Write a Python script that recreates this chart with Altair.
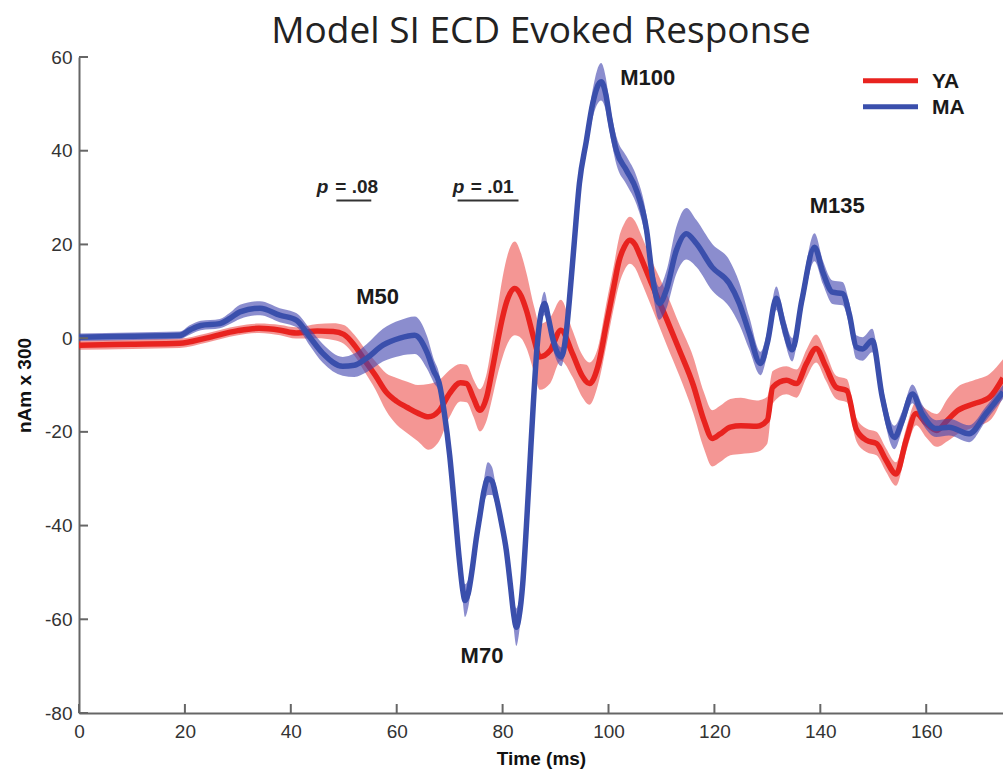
import altair as alt
import pandas as pd

# ---------------- data ----------------
ya_t = [0, 10, 19, 24, 30, 34, 38, 41, 45, 48,
        50, 52, 54, 56, 58, 60, 62, 64, 66, 68,
        70, 72, 73.2, 74.5, 75.7, 77, 78, 79, 80, 81,
        82.3, 83.5, 84.5, 86, 87, 89, 91, 93.2, 95, 96.4,
        98, 99.6, 101, 102, 103, 104, 105, 106, 108, 111,
        113.4, 116, 118, 119.6, 121, 123, 125, 128, 130, 131,
        133.6, 135.5, 137.4, 139.2, 141, 143, 145, 146.8, 148.7, 150.6,
        152.4, 154.3, 156.2, 158.1, 160, 162, 164, 166, 169, 172,
        174.5]
ya_v = [-1.5, -1.3, -1.1, 0.0, 1.6, 2.1, 1.7, 1.1, 1.5, 1.4,
        0.8, -1.5, -4.8, -8.0, -11.5, -13.5, -14.8, -16.0, -16.8, -15.5,
        -11.8, -9.5, -9.7, -12.8, -15.4, -12.5, -7.0, -1.0, 4.5, 8.5,
        10.6, 9.0, 5.9, -0.5, -4.0, -2.6, 1.7, -3.3, -8.0, -9.7,
        -6.0, 3.0, 11.0, 16.5, 19.5, 20.9, 20.0, 17.5, 12.0, 4.0,
        -2.6, -10.0, -17.5, -21.4, -20.5, -19.0, -18.7, -18.8, -17.5, -10.5,
        -9.0, -9.7, -5.4, -2.2, -6.0, -10.5, -11.2, -19.5, -21.8, -22.5,
        -26.0, -29.0, -21.8, -16.1, -18.2, -19.7, -17.5, -15.4, -14.0, -12.6,
        -8.5]
ya_e = [1.0, 1.0, 1.0, 1.0, 1.0, 1.0, 1.1, 1.2, 1.5, 1.8,
        2.0, 2.2, 2.5, 3.0, 4.0, 5.0, 5.5, 6.0, 7.0, 6.5,
        5.0, 4.0, 4.0, 4.0, 4.5, 5.0, 6.0, 7.0, 8.5, 9.5,
        10.0, 9.0, 8.0, 7.0, 7.0, 7.0, 6.5, 5.0, 4.5, 4.5,
        4.0, 4.5, 4.5, 5.0, 5.0, 5.0, 5.0, 5.0, 5.0, 5.5,
        5.5, 6.0, 6.0, 6.0, 6.0, 6.0, 6.0, 5.5, 5.0, 3.5,
        3.0, 3.0, 3.0, 3.0, 3.0, 2.5, 2.5, 2.5, 2.5, 2.5,
        2.5, 2.5, 2.5, 2.5, 3.0, 3.5, 4.5, 5.0, 5.0, 5.0,
        4.0]

ma_t = [0, 10, 19, 21, 23, 26.6, 28.5, 30.4, 34.2, 37.9,
        41.1, 43.6, 46, 49.8, 52, 54.3, 57.4, 60.6, 63.4, 65.7,
        67.0, 68.0, 69.0, 70.0, 71.0, 71.8, 72.5, 72.9, 73.5, 74.3,
        75.0, 75.7, 76.5, 77.2, 78.0, 78.8, 79.8, 80.7, 81.5, 82.1,
        82.6, 83.1, 83.8, 84.5, 85.1, 85.8, 86.5, 87.2, 87.9, 88.7,
        89.4, 90.3, 91.1, 92.0, 92.6, 93.5, 94.5, 95.8, 97.0, 98.6,
        99.5, 100.2, 101.5, 103.4, 105.3, 107.2, 108.3, 109.6, 110.9, 112.8,
        114.7, 116.6, 119.6, 122.8, 124.7, 126.6, 128.7, 130.0, 131.7, 133.0,
        134.7, 136.5, 138.9, 140.5, 142.3, 144.2, 145.5, 146.8, 148.0, 149.8,
        151.7, 154.0, 155.5, 157.4, 159.2, 161.9, 164.3, 168.1, 171.3, 174.5]
ma_v = [0.2, 0.4, 0.6, 1.8, 2.7, 3.1, 4.2, 5.6, 6.4, 4.9,
        3.8, 0.2, -3.2, -6.0, -5.8, -4.3, -1.5, 0.0, 0.6, -3.0,
        -7.0, -9.5, -16.0, -25.0, -37.0, -47.0, -54.0, -56.0, -54.5, -49.0,
        -43.0, -38.0, -32.5, -30.0, -30.5, -34.0, -39.5, -45.3, -53.0, -59.0,
        -61.7, -59.5, -52.4, -40.0, -28.0, -14.0, -2.0, 5.0, 7.4, 4.0,
        0.2, -3.0, -4.0, 1.0, 8.0, 20.0, 33.0, 42.0, 50.0, 54.7,
        52.0, 47.1, 40.0, 35.8, 31.5, 23.0, 13.0, 7.4, 10.2, 18.7,
        22.3, 20.2, 15.1, 11.7, 7.4, 1.0, -5.4, -1.0, 8.5, 3.0,
        -2.5, 8.0, 19.4, 14.0, 9.8, 9.5, 5.0, -1.9, -2.3, -0.5,
        -12.6, -21.2, -17.5, -11.9, -16.1, -19.3, -19.0, -20.4, -16.1, -11.5]
ma_e = [0.8, 0.8, 0.8, 1.0, 1.0, 1.0, 1.2, 1.5, 1.5, 1.5,
        1.5, 1.8, 2.0, 2.0, 2.5, 3.0, 3.5, 3.8, 4.0, 3.5,
        2.5, 2.0, 1.5, 1.2, 1.2, 1.5, 2.5, 3.5, 3.0, 2.0,
        1.5, 1.5, 2.5, 3.5, 3.0, 2.0, 1.5, 1.5, 2.0, 3.0,
        4.0, 3.5, 2.0, 1.2, 1.2, 1.2, 1.5, 2.0, 2.5, 2.0,
        2.0, 2.0, 2.0, 1.5, 1.5, 1.5, 1.5, 2.0, 3.0, 4.0,
        3.5, 3.0, 3.0, 3.0, 3.0, 3.0, 3.0, 3.5, 4.0, 5.0,
        5.5, 5.0, 5.0, 5.0, 4.5, 3.5, 2.5, 2.5, 2.5, 2.5,
        2.5, 2.5, 3.0, 2.5, 2.5, 2.5, 2.5, 2.5, 2.5, 2.5,
        2.5, 2.5, 2.0, 2.0, 2.0, 1.8, 1.8, 1.8, 1.5, 1.5]

groups = ["YA", "MA"]
line_colors = ["#e8231f", "#3a4fac"]
band_colors = ["#e8231f", "#4347b0"]
band_opacity = [0.48, 0.62]

x_ticks = [0, 20, 40, 60, 80, 100, 120, 140, 160]
y_ticks = [-80, -60, -40, -20, 0, 20, 40, 60]

peak_labels = ["M50", "M70", "M100", "M135"]
peak_x = [56.4, 76.1, 107.4, 143.2]
peak_y = [8.7, -67.9, 55.6, 28.3]

p_values = ["= .08", "= .01"]
p_letter_x = [44.9, 70.6]
p_value_x = [48.4, 74.0]
p_y = [32.2, 32.2]
sig_start = [48.6, 71.5]
sig_end = [55.2, 83.0]
sig_y = [29.4, 29.4]

# ---------------- build ----------------
W, H = 924, 656
FONT = "Liberation Sans"

def series_df(t, v, e, g):
    return pd.DataFrame({
        "t": t, "v": v,
        "lo": [a - b for a, b in zip(v, e)],
        "hi": [a + b for a, b in zip(v, e)],
        "group": g,
    })

dfs = [series_df(ya_t, ya_v, ya_e, "YA"), series_df(ma_t, ma_v, ma_e, "MA")]

xs = alt.Scale(domain=[0, 174.5], nice=False, zero=False)
ys = alt.Scale(domain=[-80, 60], nice=False, zero=False)
x_axis = alt.Axis(title="Time (ms)", values=x_ticks, labelExpr="toString(datum.value)",
                  grid=False, ticks=False, labelPadding=9, titlePadding=8,
                  labelFlush=False, labelOverlap=False)
y_axis = alt.Axis(title="nAm x 300", values=y_ticks, labelExpr="toString(datum.value)",
                  grid=False, ticks=False, labelPadding=7, titlePadding=10,
                  labelFlush=False, labelOverlap=False)

def X(field):
    return alt.X(field, type="quantitative", scale=xs, axis=x_axis)

def Y(field):
    return alt.Y(field, type="quantitative", scale=ys, axis=y_axis)

layers = []
for df, lc, bc, bo in zip(dfs, line_colors, band_colors, band_opacity):
    band = alt.Chart(df).mark_area(color=bc, opacity=bo, interpolate="monotone").encode(
        x=X("t"), y=Y("lo"), y2="hi")
    line = alt.Chart(df).mark_line(color=lc, strokeWidth=5.5, interpolate="monotone").encode(
        x=X("t"), y=Y("v"))
    layers += [band, line]

# inward tick marks
xt = alt.Chart(pd.DataFrame({"t": x_ticks})).mark_rule(color="#666", strokeWidth=2).encode(
    x=X("t"), y=alt.value(H), y2=alt.value(H - 9))
yt = alt.Chart(pd.DataFrame({"v": y_ticks})).mark_rule(color="#666", strokeWidth=2).encode(
    y=Y("v"), x=alt.value(0), x2=alt.value(9))
layers += [xt, yt]

# peak labels
peaks = pd.DataFrame({"label": peak_labels, "t": peak_x, "v": peak_y})
layers.append(alt.Chart(peaks).mark_text(font=FONT, fontSize=22, fontWeight="bold",
                                         color="#1a1a1a").encode(
    x=X("t"), y=Y("v"), text="label"))

# p-value annotations
pdf = pd.DataFrame({"px": p_letter_x, "vx": p_value_x, "v": p_y, "txt": p_values,
                    "s": sig_start, "e": sig_end, "sy": sig_y})
layers.append(alt.Chart(pdf).mark_text(font=FONT, fontSize=19, fontStyle="italic",
                                       fontWeight="bold", color="#222", align="left").encode(
    x=X("px"), y=Y("v"), text=alt.value("p")))
layers.append(alt.Chart(pdf).mark_text(font=FONT, fontSize=19, fontWeight="bold",
                                       color="#222", align="left").encode(
    x=X("vx"), y=Y("v"), text="txt"))
layers.append(alt.Chart(pdf).mark_rule(color="#333", strokeWidth=2).encode(
    x=X("s"), x2="e", y=Y("sy")))

# legend (drawn manually)
leg_x0, leg_x1, leg_tx = 784, 839, 853
leg_y = [23.7, 49.7]
for g, c, yy in zip(groups, line_colors, leg_y):
    layers.append(alt.Chart(pd.DataFrame({"g": [g]})).mark_rule(color=c, strokeWidth=5).encode(
        x=alt.value(leg_x0), x2=alt.value(leg_x1), y=alt.value(yy)))
    layers.append(alt.Chart(pd.DataFrame({"g": [g]})).mark_text(
        font=FONT, fontSize=21, fontWeight="bold", color="#1a1a1a", align="left",
        baseline="middle").encode(x=alt.value(leg_tx), y=alt.value(yy + 1), text="g:N"))

chart = alt.layer(*layers).properties(
    width=W, height=H,
    title=alt.TitleParams("Model SI ECD Evoked Response", font="Open Sans", fontSize=37,
                          fontWeight="normal", color="#222", anchor="middle", offset=-3),
    autosize="none",
    padding={"left": 79, "top": 57, "right": 0, "bottom": 62},
).configure_view(stroke=None).configure_axis(
    domainColor="#666", domainWidth=2,
    labelFont=FONT, labelFontSize=19, labelColor="#333",
    titleFont=FONT, titleFontSize=19, titleFontWeight="bold", titleColor="#111",
)

chart.save("out.html", embed_options={"renderer": "svg", "actions": False})
